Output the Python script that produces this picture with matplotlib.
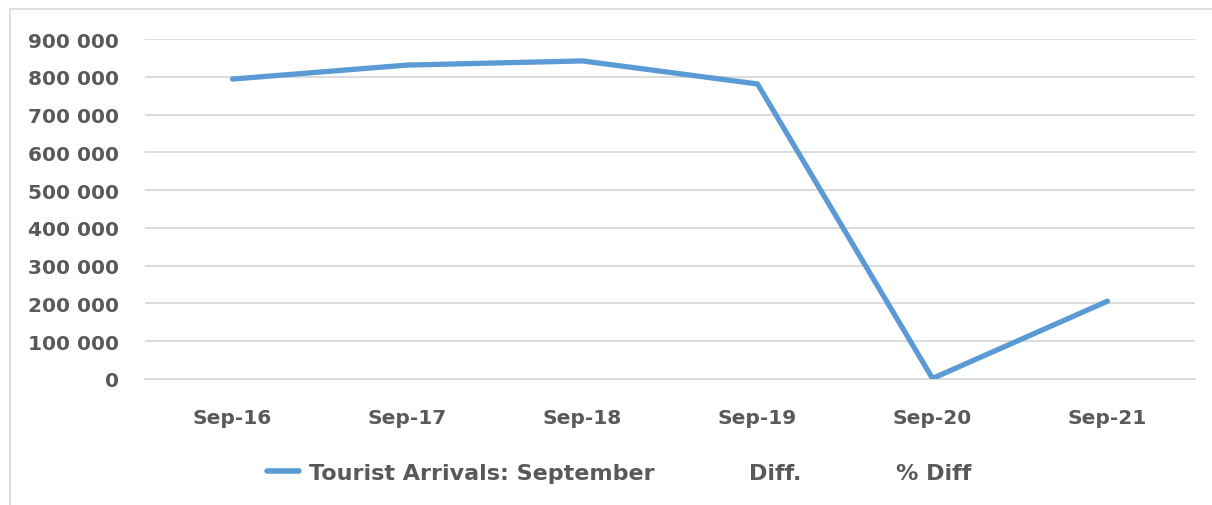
import matplotlib.pyplot as plt
from matplotlib.lines import Line2D
from matplotlib.patches import Rectangle

months = ["Sep-16", "Sep-17", "Sep-18", "Sep-19", "Sep-20", "Sep-21"]
arrivals = [794000, 831000, 842000, 781000, 1500, 206000]
yticks = [0, 100000, 200000, 300000, 400000, 500000, 600000, 700000, 800000, 900000]
ylabels = ["0" if v == 0 else f"{v // 1000} 000" for v in yticks]
legend_names = ["Tourist Arrivals: September", "Diff.", "% Diff"]

txt = "#595959"
blue = "#5B9BD5"
plt.rcParams['font.family'] = ['DejaVu Sans']

fig = plt.figure(figsize=(12.12, 5.06), dpi=100)
# chart frame
fig.patches.append(Rectangle((10 / 1212, -0.05), 1.2, 1.0 - 10 / 506 + 0.05,
                             transform=fig.transFigure, fill=False,
                             edgecolor="#D9D9D9", linewidth=1.2))

ax = fig.add_axes([145 / 1212, 1 - 380 / 506, 1050 / 1212, 340 / 506])
x = list(range(len(months)))
ax.plot(x, arrivals, color=blue, linewidth=3.8, solid_capstyle="round",
        solid_joinstyle="round", zorder=3)

ax.set_xlim(-0.5, len(months) - 0.5)
ax.set_ylim(0, 900000)
ax.set_yticks(yticks)
ax.set_yticklabels(ylabels)
ax.set_xticks(x)
ax.set_xticklabels(months)
ax.grid(axis="y", color="#D9D9D9", linewidth=1.3)
ax.set_axisbelow(True)
for s in ["top", "right", "left"]:
    ax.spines[s].set_visible(False)
ax.spines["bottom"].set_color("#D9D9D9")
ax.spines["bottom"].set_linewidth(1.3)
ax.tick_params(length=0, labelsize=14.5, labelcolor=txt)
ax.tick_params(axis="y", pad=19)
ax.tick_params(axis="x", pad=21)
for lab in ax.get_xticklabels() + ax.get_yticklabels():
    lab.set_fontweight("bold")

handles = [Line2D([], [], color=blue, linewidth=4, solid_capstyle="round"),
           Line2D([], [], color="none"),
           Line2D([], [], color="none")]
leg = fig.legend(handles, legend_names,
                 loc="center", bbox_to_anchor=(619 / 1212, 1 - 474 / 506),
                 ncol=3, frameon=False, handlelength=1.45, columnspacing=2.35,
                 handletextpad=0.45,
                 prop={"size": 16, "weight": "bold"})
for t in leg.get_texts():
    t.set_color(txt)

fig.savefig("out.png", dpi=100)
